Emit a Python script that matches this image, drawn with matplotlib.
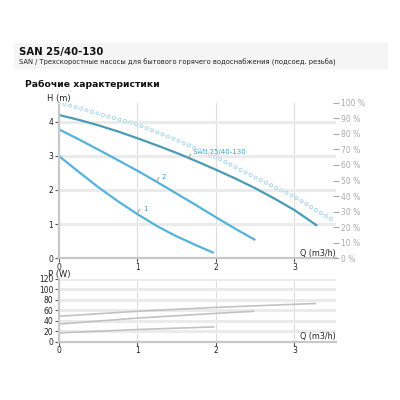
import matplotlib
matplotlib.use('Agg')
from matplotlib import pyplot as plt
from matplotlib.patches import Rectangle

plt.rcParams['font.family'] = ['DejaVu Sans']
plt.rcParams['lines.scale_dashes'] = False

# pump curves H(Q), speeds max / 2 / 1
q_max = [0, 0.25, 0.5, 0.75, 1, 1.25, 1.5, 1.75, 2, 2.25, 2.5, 2.75, 3, 3.28]
h_max = [4.19, 4.05, 3.89, 3.71, 3.51, 3.3, 3.08, 2.84, 2.59, 2.33, 2.05, 1.74, 1.41, 0.97]
q_2 = [0, 0.25, 0.5, 0.75, 1, 1.25, 1.5, 1.75, 2, 2.25, 2.49]
h_2 = [3.77, 3.48, 3.18, 2.87, 2.56, 2.23, 1.89, 1.55, 1.2, 0.86, 0.55]
q_1 = [0, 0.25, 0.5, 0.75, 1, 1.25, 1.5, 1.75, 1.96]
h_1 = [2.99, 2.53, 2.08, 1.67, 1.29, 0.94, 0.64, 0.38, 0.17]

# efficiency curve (%)
q_eff = [0, 0.5, 1, 1.5, 2, 2.5, 3, 3.49]
eff = [100, 93, 86, 76, 65, 52, 39.5, 24.5]

# power P(Q)
p_q_max = [0, 1, 2, 3.27]
p_max = [48.5, 58, 65.5, 73]
p_q_2 = [0, 1, 2, 2.48]
p_2 = [33.5, 45, 54, 58]
p_q_1 = [0, 1, 1.97]
p_1 = [16.5, 23, 28]

h_ticks = [0, 1, 2, 3, 4]
q_ticks = [0, 1, 2, 3]
pct_ticks = list(range(0, 101, 10))
p_ticks = list(range(0, 121, 20))

dark = '#4a9bb5'
light = '#55b3db'
txt_blue = '#3a9fd5'
grey_band = '#ebebeb'
grey_vline = '#dddddd'
spine_c = '#c8c8c8'

fig = plt.figure(figsize=(4, 4), dpi=100)

# header
fig.patches.append(Rectangle((14/400, 1-68/400), 373/400, 25/400, transform=fig.transFigure,
                             color='#f5f5f5', zorder=0))
fig.text(19/400, 1-52.5/400, 'SAN 25/40-130', fontsize=7.3, weight='bold', va='center', color='#111')
fig.text(19/400, 1-62/400, 'SAN / Трехскоростные насосы для бытового горячего водоснабжения (подсоед. резьба)',
         fontsize=4.85, va='center', color='#222')
fig.text(25/400, 1-84/400, 'Рабочие характеристики', fontsize=6.7, weight='bold', va='center', color='#111')


def style(a, ymax, yt):
    a.set_xlim(0, 3.53)
    a.set_ylim(0, ymax)
    a.set_xticks(q_ticks)
    a.set_yticks(yt)
    a.yaxis.grid(True, color=grey_band, lw=2.2)
    a.xaxis.grid(True, color=grey_vline, lw=0.8)
    a.set_axisbelow(True)
    for s in ['top', 'right']:
        a.spines[s].set_visible(False)
    for s in ['left', 'bottom']:
        a.spines[s].set_color(spine_c)
        a.spines[s].set_linewidth(1.6)
    a.tick_params(length=3, width=0.8, color='#555', labelsize=5.5, labelcolor='#222')
    a.tick_params(axis='x', pad=0.5)
    a.tick_params(axis='y', pad=1)
    a.text(1, 0.005, 'Q (m3/h)', transform=a.transAxes, ha='right', va='bottom', fontsize=5.8, color='#222')


ax = fig.add_axes([59/400, 1-258.3/400, 277/400, 155.6/400])
style(ax, 4.55, h_ticks)
ax.plot(q_max, h_max, color=dark, lw=1.6)
ax.plot(q_2, h_2, color=light, lw=1.6)
ax.plot(q_1, h_1, color=light, lw=1.6)

lead = dict(arrowstyle='-', color='#999999', lw=0.6, shrinkA=0, shrinkB=0,
            connectionstyle='angle,angleA=0,angleB=70,rad=1.5')
ax.annotate('SAN 25/40-130', xy=(1.655, 2.93), xytext=(1.71, 3.1), fontsize=5, color=txt_blue,
            va='center', annotation_clip=False, arrowprops=lead)
ax.annotate('2', xy=(1.25, 2.23), xytext=(1.31, 2.39), fontsize=5, color=txt_blue,
            va='center', arrowprops=lead)
ax.annotate('1', xy=(1.0, 1.29), xytext=(1.07, 1.44), fontsize=5, color=txt_blue,
            va='center', arrowprops=lead)

ax2 = ax.twinx()
ax2.set_ylim(0, 100)
ax2.set_yticks(pct_ticks)
ax2.set_yticklabels([f'{v} %' for v in pct_ticks])
for s in ax2.spines.values():
    s.set_visible(False)
ax2.tick_params(length=5, width=0.8, direction='inout', color='#aaaaaa', labelsize=5.5,
                labelcolor='#aaaaaa', pad=1)
ax2.plot(q_eff, eff, color='#abd8ee', lw=3.0, linestyle=(0, (0.01, 4.1)), dash_capstyle='round')
ax2.plot(q_eff, eff, color='white', lw=1.6, linestyle=(0, (0.01, 4.1)), dash_capstyle='round')

fig.text(47/400, 1-98.5/400, 'H (m)', fontsize=6, va='center', color='#222')

ax3 = fig.add_axes([59/400, 1-341.5/400, 277/400, 62.5/400])
style(ax3, 120, p_ticks)
ax3.plot(p_q_max, p_max, color='#c2c2c2', lw=1.2)
ax3.plot(p_q_2, p_2, color='#c2c2c2', lw=1.2)
ax3.plot(p_q_1, p_1, color='#c2c2c2', lw=1.2)
fig.text(48/400, 1-275/400, 'P (W)', fontsize=6, va='center', color='#222')

fig.savefig('out.png', dpi=100)
